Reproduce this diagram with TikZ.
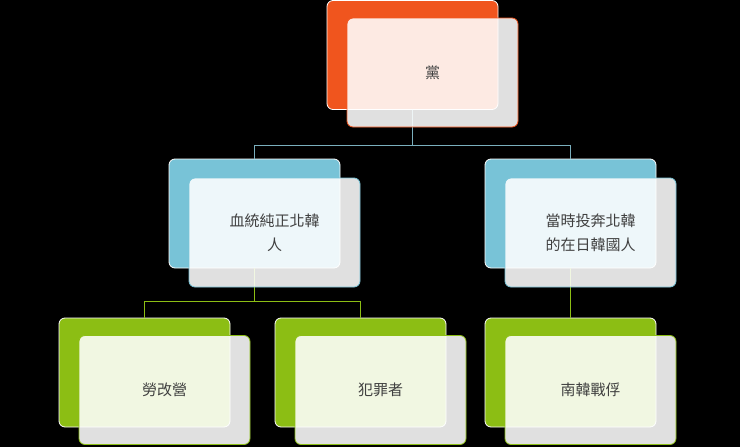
\documentclass[tikz,border=0pt]{standalone}
\usepackage{fontspec}
\newfontfamily\cjk{Noto Sans CJK TC}
\begin{document}
\begin{tikzpicture}[x=1pt,y=-1pt,
  back/.style={draw=white,line width=0.8pt,rounded corners=6pt,minimum width=171pt,minimum height=109pt,inner sep=0pt},
  front/.style={draw=#1,line width=0.8pt,rounded corners=6pt,fill=white,fill opacity=0.88,text opacity=1,minimum width=171pt,minimum height=109pt,inner sep=0pt,font=\cjk\fontsize{15}{24}\selectfont,text=black!75,align=center},
  conn/.style={draw=#1,line width=0.8pt}]
\fill[black] (0,0) rectangle (740,447);
\definecolor{ored}{RGB}{240,85,30}
\definecolor{lblue}{RGB}{120,195,215}
\definecolor{lgreen}{RGB}{140,190,20}
% back boxes
\node[back,fill=ored] (b0) at (412.5,55) {};
\node[back,fill=lblue] (b1) at (254.5,213.5) {};
\node[back,fill=lblue] (b2) at (570.5,213.5) {};
\node[back,fill=lgreen] (b3) at (144.5,372.5) {};
\node[back,fill=lgreen] (b4) at (360.5,372.5) {};
\node[back,fill=lgreen] (b5) at (570.5,372.5) {};
% connectors
\coordinate (j0) at (412.5,145);
\coordinate (j1) at (254.5,301);
\draw[conn=lblue!70!gray] (b0.south) -- (j0) -| (b1.north);
\draw[conn=lblue!70!gray] (j0) -| (b2.north);
\draw[conn=lgreen] (b1.south) -- (j1) -| (b3.north);
\draw[conn=lgreen] (j1) -| (b4.north);
\draw[conn=lgreen] (b2.south) -- (b5.north);
% front boxes
\node[front=ored] (f0) at (432.5,72.5) {黨};
\node[front=lblue] (f1) at (274.5,232.5) {血統純正北韓\\人};
\node[front=lblue] (f2) at (590.5,232.5) {當時投奔北韓\\的在日韓國人};
\node[front=lgreen] (f3) at (164.5,390) {勞改營};
\node[front=lgreen] (f4) at (380.5,390) {犯罪者};
\node[front=lgreen] (f5) at (590.5,390) {南韓戰俘};
\end{tikzpicture}
\end{document}
